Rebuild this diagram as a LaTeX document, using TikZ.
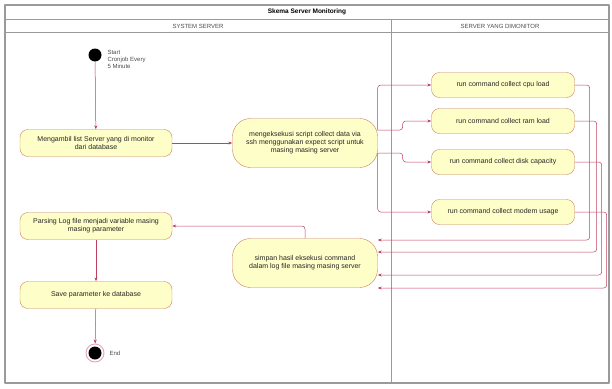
\documentclass[tikz,border=0pt]{standalone}
\usepackage{fontspec}
\setmainfont{Liberation Sans}
\usetikzlibrary{arrows.meta,positioning}
\definecolor{actfill}{HTML}{FEFEC8}
\definecolor{actline}{HTML}{C8845E}
\definecolor{flowline}{HTML}{C04060}
\definecolor{laneline}{HTML}{9A9A9A}
\tikzset{
  act/.style={draw=actline, fill=actfill, rounded corners=8pt, minimum width=152pt,
    minimum height=27pt, align=center, inner sep=2pt, text=black!85,
    font=\fontsize{7}{8}\selectfont},
  runact/.style={act, minimum width=143pt, minimum height=25pt},
  bigact/.style={act, rounded corners=18pt, minimum width=145pt, minimum height=49pt},
  flow/.style={draw=flowline, line width=0.5pt, ->, rounded corners=3pt},
  lbl/.style={font=\fontsize{6}{7}\selectfont, text=black!70},
}
\begin{document}
\begin{tikzpicture}[x=1pt, y=-1pt, line join=round, >={Stealth[length=4pt,width=3pt]}]
	\useasboundingbox (0,0) rectangle (612,388);
	% swimlanes
	\draw[laneline, line width=1.2pt] (5,5) rectangle (609,383);
	\draw[laneline] (5,19)--(609,19);
	\draw[laneline] (5,32)--(609,32);
	\draw[laneline] (391,19)--(391,383);
	\node[font=\bfseries\fontsize{6.5}{7}\selectfont] (title) at (307,12) {Skema Server Monitoring};
	\node[lbl] (lanesys) at (198,26) {SYSTEM SERVER};
	\node[lbl] (lanemon) at (500,26) {SERVER YANG DIMONITOR};
	% system server
	\node[circle, fill=black, minimum size=13pt, inner sep=0pt] (start) at (95,55) {};
	\node[lbl, right, align=left] (startlbl) at (104,59) {Start\\Cronjob Every\\5 Minute};
	\node[act] (ambil) at (96,143) {Mengambil list Server yang di monitor\\dari database};
	\node[bigact] (exec) at (305,143) {mengeksekusi script collect data via\\ssh menggunakan expect script untuk\\masing masing server};
	\node[bigact] (simpan) at (305,263) {simpan hasil eksekusi command\\dalam log file masing masing server};
	\node[act] (parse) at (96,226) {Parsing Log file menjadi variable masing\\masing parameter};
	\node[act] (save) at (96,295) {Save parameter ke database};
	\node[circle, draw=flowline!45, line width=1pt, minimum size=18pt, inner sep=0pt] (end) at (95,353) {};
	\fill[black] (end.center) circle (6.5pt);
	\node[lbl, right] (endlbl) at (106,353) {End};
	% server yang dimonitor
	\node[runact] (cpu) at (503,85) {run command collect cpu load};
	\node[runact] (ram) at (503,121) {run command collect ram load};
	\node[runact] (disk) at (503,162) {run command collect disk capacity};
	\node[runact] (modem) at (503,212) {run command collect modem usage};
	% connectors
	\draw[flow] (start)--(ambil);
	\draw[flow] (ambil)--(exec);
	\draw[flow] ([yshift=13pt]exec.east) |- (cpu.west);
	\draw[flow] ([yshift=13pt]exec.east) -- ++(25,0) |- (ram.west);
	\draw[flow] ([yshift=-10pt]exec.east) -- ++(25,0) |- (disk.west);
	\draw[flow] ([yshift=-10pt]exec.east) |- (modem.west);
	\draw[flow] (cpu.east) -- ++(15,0) |- ([yshift=23pt]simpan.east);
	\draw[flow] (ram.east) -- ++(22,0) |- ([yshift=11pt]simpan.east);
	\draw[flow] (disk.east) -- ++(27,0) |- ([yshift=-12pt]simpan.east);
	\draw[flow] (modem.east) -- ++(32,0) |- ([yshift=-25pt]simpan.east);
	\draw[flow] (simpan.north) |- (parse.east);
	\draw[flow] (parse)--(save);
	\draw[flow] (save)--(end);
\end{tikzpicture}
\end{document}
